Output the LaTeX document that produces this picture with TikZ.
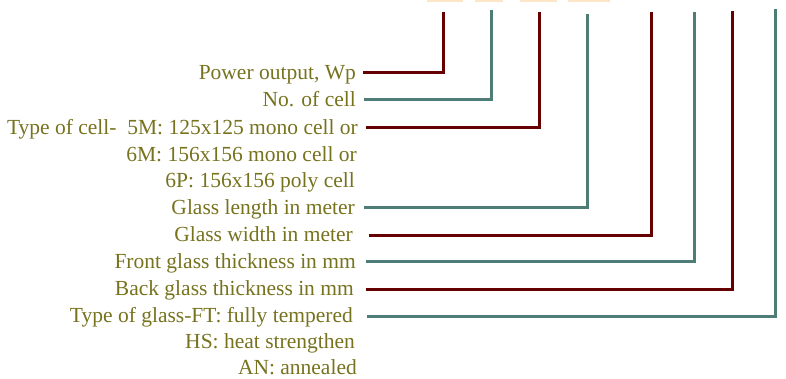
\documentclass[tikz,border=0pt]{standalone}
\usepackage{fontspec}
\setmainfont{Liberation Serif}
\usepackage{tikz}
\usetikzlibrary{positioning,calc}
\definecolor{TagRed}{RGB}{102,0,0}
\definecolor{TagTeal}{RGB}{78,124,118}
\definecolor{TagText}{RGB}{118,114,30}
\definecolor{TagBox}{RGB}{253,230,200}

\begin{document}
\begin{tikzpicture}[x=1pt,y=-1pt]
	\tikzset{
		t/.style={anchor=base east, text=TagText, inner sep=0pt, font=\fontsize{21.5}{21.5}\selectfont},
		r/.style={draw=TagRed, line width=3pt},
		g/.style={draw=TagTeal, line width=3pt},
		b/.style={fill=TagBox, draw=none}
	}
	\useasboundingbox (0,0) rectangle (786,378);
	% boxes cut off at the top
	\fill[b] (427,-4) rectangle (463,2);
	\fill[b] (475,-4) rectangle (503,2);
	\fill[b] (520,-4) rectangle (557,2);
	\fill[b] (568,-4) rectangle (610,2);
	% labels
	\node[t] (pw) at (356,79) {Power output, Wp};
	\node[t] (nc) at (356,106) {No. of cell};
	\node[t] (tc) at (358,134) {Type of cell-\ \ 5M: 125x125 mono cell or};
	\node[t] (tc2) at (357,161) {6M: 156x156 mono cell or};
	\node[t] (tc3) at (355,187) {6P: 156x156 poly cell};
	\node[t] (gl) at (355,214) {Glass length in meter};
	\node[t] (gw) at (353,241) {Glass width in meter};
	\node[t] (fg) at (356,268) {Front glass thickness in mm};
	\node[t] (bg) at (354,295) {Back glass thickness in mm};
	\node[t] (tg) at (353,322) {Type of glass-FT: fully tempered};
	\node[t] (tg2) at (355,348) {HS: heat strengthen};
	\node[t] (tg3) at (357,374) {AN: annealed};
	% top ends
	\coordinate (c1) at (443,12);
	\coordinate (c2) at (491,10);
	\coordinate (c3) at (539,12);
	\coordinate (c4) at (587,14);
	\coordinate (c5) at (651,12);
	\coordinate (c6) at (694,12);
	\coordinate (c7) at (732,11);
	\coordinate (c8) at (775,9);

	\draw[r] ([xshift=7pt,yshift=7pt]pw.base east) -| (c1);
	\draw[g] ([xshift=8pt,yshift=7pt]nc.base east) -| (c2);
	\draw[r] ([xshift=8pt,yshift=7pt]tc.base east) -| (c3);
	\draw[g] ([xshift=9pt,yshift=7pt]gl.base east) -| (c4);
	\draw[r] ([xshift=16pt,yshift=6pt]gw.base east) -| (c5);
	\draw[g] ([xshift=10pt,yshift=7pt]fg.base east) -| (c6);
	\draw[r] ([xshift=12pt,yshift=6pt]bg.base east) -| (c7);
	\draw[g] ([xshift=14pt,yshift=6pt]tg.base east) -| (c8);
\end{tikzpicture}
\end{document}
